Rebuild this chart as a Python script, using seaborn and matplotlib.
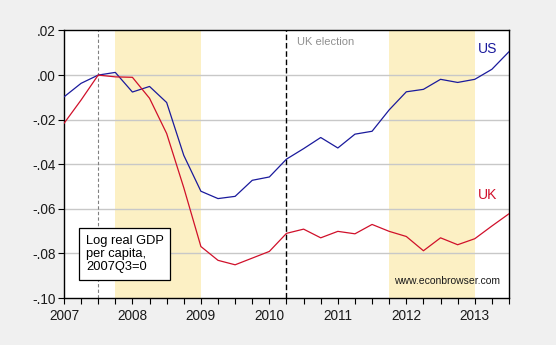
import matplotlib
matplotlib.use("Agg")
import matplotlib.pyplot as plt
import seaborn as sns
import pandas as pd
import numpy as np
from matplotlib.ticker import MultipleLocator, FixedLocator

quarters = ["2007Q1", "2007Q2", "2007Q3", "2007Q4",
            "2008Q1", "2008Q2", "2008Q3", "2008Q4",
            "2009Q1", "2009Q2", "2009Q3", "2009Q4",
            "2010Q1", "2010Q2", "2010Q3", "2010Q4",
            "2011Q1", "2011Q2", "2011Q3", "2011Q4",
            "2012Q1", "2012Q2", "2012Q3", "2012Q4",
            "2013Q1", "2013Q2", "2013Q3"]
us = [-0.0098, -0.0037, 0.0, 0.0012,
      -0.0076, -0.0051, -0.0123, -0.0360,
      -0.0521, -0.0554, -0.0544, -0.0472,
      -0.0457, -0.0377, -0.0330, -0.0280,
      -0.0327, -0.0265, -0.0252, -0.0156,
      -0.0075, -0.0064, -0.0019, -0.0033,
      -0.0019, 0.0026, 0.0105]
uk = [-0.0217, -0.0112, 0.0, -0.0008,
      -0.0010, -0.0104, -0.0262, -0.0505,
      -0.0769, -0.0831, -0.0851, -0.0821,
      -0.0791, -0.0710, -0.0691, -0.0730,
      -0.0701, -0.0712, -0.0670, -0.0701,
      -0.0724, -0.0788, -0.0730, -0.0761,
      -0.0734, -0.0677, -0.0622]
shade_periods = [(2007.75, 2009.0), (2011.75, 2013.0)]
ytick_vals = [0.02, 0.0, -0.02, -0.04, -0.06, -0.08, -0.10]
ytick_labels = [".02", ".00", "-.02", "-.04", "-.06", "-.08", "-.10"]
xtick_years = [2007, 2008, 2009, 2010, 2011, 2012, 2013]

t = [int(q[:4]) + (int(q[5]) - 1) * 0.25 for q in quarters]
df = pd.DataFrame({"t": t * 2, "value": us + uk,
                   "country": ["US"] * len(us) + ["UK"] * len(uk)})

sns.set_theme(style="white")
plt.rcParams['font.family'] = ['Liberation Sans', 'DejaVu Sans']

fig = plt.figure(figsize=(5.56, 3.45), dpi=100, facecolor="#f0f0f0")
ax = fig.add_axes([0.115, 0.1362, 0.8005, 0.7754])
ax.set_facecolor("white")

for a, b in shade_periods:
    ax.axvspan(a, b, color="#fcf0c4", lw=0, zorder=0)
for yv in ytick_vals[1:-1]:
    ax.axhline(yv, color="#c8c8c8", lw=1.0, zorder=1)

ax.axvline(2007.5, color="#808080", lw=0.8, ls=(0, (3, 2)), zorder=2)
ax.axvline(2010.25, color="black", lw=1.0, ls=(0, (4, 2)), zorder=2)

sns.lineplot(data=df, x="t", y="value", hue="country",
             palette={"US": "#1a1a9c", "UK": "#d0102a"}, lw=0.9,
             legend=False, ax=ax, zorder=3)

ax.set_xlim(2007, 2013.5)
ax.set_ylim(-0.10, 0.02)
ax.xaxis.set_major_locator(FixedLocator(xtick_years))
ax.xaxis.set_minor_locator(MultipleLocator(0.25))
ax.set_xticklabels([str(y) for y in xtick_years])
ax.set_yticks(ytick_vals)
ax.set_yticklabels(ytick_labels)
ax.set_xlabel("")
ax.set_ylabel("")
ax.tick_params(axis="both", which="both", direction="out", length=4,
               width=0.8, color="black", labelsize=9.8, labelcolor="#1a1a1a",
               bottom=True, left=True, top=False, right=False, pad=2)
ax.tick_params(axis="x", which="both", length=4, pad=4)
for s in ax.spines.values():
    s.set_color("black")
    s.set_linewidth(1.0)

ax.text(2010.41, 0.0148, "UK election", color="#909090", fontsize=8.0,
        ha="left", va="center")
ax.text(2013.18, 0.0117, "US", color="#1a1a9c", fontsize=10,
        ha="center", va="center")
ax.text(2013.18, -0.054, "UK", color="#d0102a", fontsize=10,
        ha="center", va="center")
ax.text(2012.60, -0.0925, "www.econbrowser.com", color="#1a1a1a",
        fontsize=7.5, ha="center", va="center")
ax.text(2007.32, -0.0802, "Log real GDP\nper capita,\n2007Q3=0",
        color="black", fontsize=9.3, ha="left", va="center", linespacing=1.15,
        bbox=dict(boxstyle="square,pad=0.5", fc="white", ec="black", lw=0.9),
        zorder=5)

fig.savefig("out.png", dpi=100, facecolor=fig.get_facecolor())
